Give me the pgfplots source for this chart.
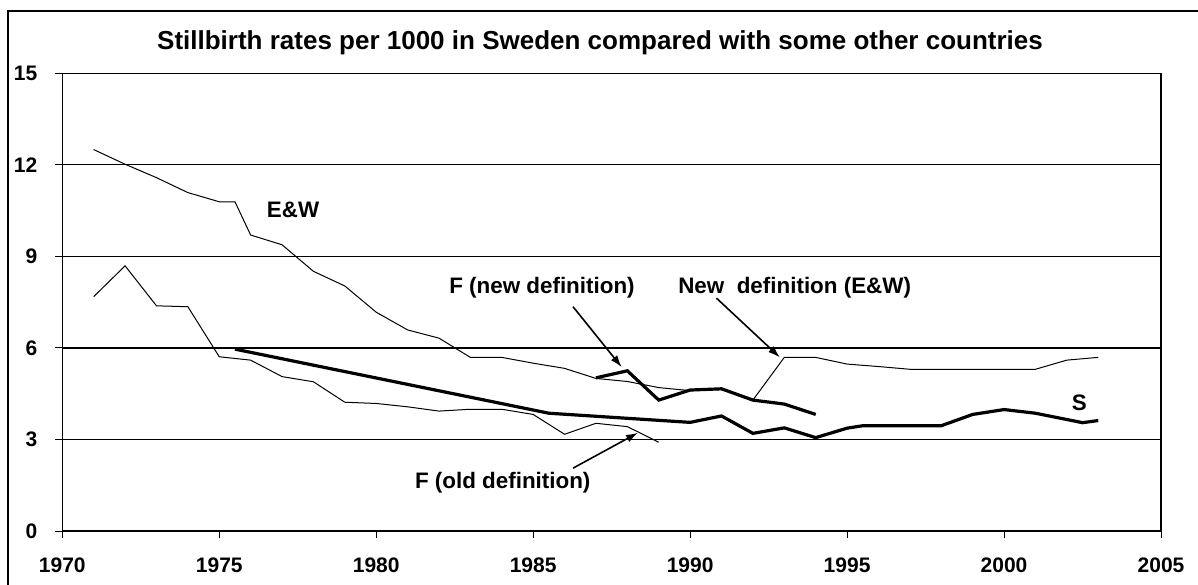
\documentclass[border=0pt]{standalone}
\usepackage{pgfplots}
\pgfplotsset{compat=1.18}
\usepackage{fontspec}
\setmainfont{Liberation Sans}
\usetikzlibrary{arrows.meta}
\begin{document}
\begin{tikzpicture}[x=1pt,y=1pt]
\useasboundingbox (-31.15,-26.5) rectangle (567.85,265.5);
\clip (-31.15,-26.5) rectangle (567.85,265.5);
\draw[line width=0.9pt] (-27.0,-40) -- (-27.0,260) -- (600,260);
\node[font=\bfseries\fontsize{13}{15}\selectfont] at (268.85,244) {Stillbirth rates per 1000 in Sweden compared with some other countries};
\begin{axis}[at={(0,0)}, anchor=south west, scale only axis,
  width=549.35pt, height=228.85pt,
  xmin=1970, xmax=2005, ymin=0, ymax=15,
  xtick={1970,1975,1980,1985,1990,1995,2000,2005},
  ytick={0,3,6,9,12,15},
  xtick pos=bottom, ytick pos=left, tick align=outside,
  major tick length=3.5pt,
  tick style={black, line width=0.5pt},
  axis line style={black, line width=0.6pt},
  ymajorgrids, grid style={black, line width=0.6pt},
  /pgf/number format/1000 sep={},
  /pgf/number format/assume math mode=true,
  ticklabel style={font=\bfseries\fontsize{10.5}{12}\selectfont},
  xticklabel style={yshift=-6.5pt},
  yticklabel style={xshift=-5.5pt},
  clip=false,
]
\addplot[black, line width=0.5pt] coordinates {(1971,12.50)(1972,12.02)(1973,11.58)(1974,11.09)(1975,10.79)(1975.5,10.79)(1976,9.70)(1977,9.38)(1978,8.51)(1979,8.03)(1980,7.17)(1981,6.59)(1982,6.32)(1983,5.69)(1984,5.69)(1985,5.50)(1986,5.33)(1987,5.00)(1988,4.90)(1989,4.70)(1990,4.60)(1991,4.64)(1992,4.29)(1993,5.69)(1994,5.69)(1995,5.47)(1996,5.39)(1997,5.30)(1998,5.30)(1999,5.30)(2000,5.30)(2001,5.30)(2002,5.60)(2003,5.69)};
\addplot[black, line width=0.5pt] coordinates {(1971,7.68)(1972,8.69)(1973,7.38)(1974,7.35)(1975,5.71)(1976,5.60)(1977,5.06)(1978,4.89)(1979,4.22)(1980,4.18)(1981,4.07)(1982,3.93)(1983,3.99)(1984,3.99)(1985,3.82)(1986,3.17)(1987,3.53)(1988,3.42)(1989,2.91)};
\addplot[black, line width=1.6pt] coordinates {(1987,5.02)(1988,5.25)(1989,4.29)(1990,4.62)(1991,4.66)(1992,4.29)(1993,4.16)(1994,3.82)};
\addplot[black, line width=1.6pt] coordinates {(1975.5,5.96)(1985.5,3.86)(1990,3.56)(1991,3.77)(1992,3.20)(1993,3.38)(1994,3.06)(1995,3.37)(1995.5,3.45)(1998,3.45)(1999,3.82)(2000,3.98)(2001,3.86)(2002.5,3.55)(2003,3.62)};
\begin{scope}[font=\bfseries\fontsize{11.2}{13}\selectfont]
\node at (axis cs:1977.35,10.52) {E\&W};
\node at (axis cs:1985.28,7.96) {F (new definition)};
\node at (axis cs:1993.33,7.96) {New\ \ definition (E\&W)};
\node at (axis cs:2002.4,4.2) {S};
\node at (axis cs:1984.03,1.57) {F (old definition)};
\end{scope}
\draw[-{Latex[length=6pt,width=4pt]}, line width=0.8pt] (axis cs:1986.27,7.35) -- (axis cs:1987.82,5.37);
\draw[-{Latex[length=6pt,width=4pt]}, line width=0.8pt] (axis cs:1990.84,7.63) -- (axis cs:1992.86,5.69);
\draw[-{Latex[length=6pt,width=4pt]}, line width=0.8pt] (axis cs:1986.27,2.06) -- (axis cs:1988.34,3.22);
\end{axis}
\end{tikzpicture}
\end{document}
